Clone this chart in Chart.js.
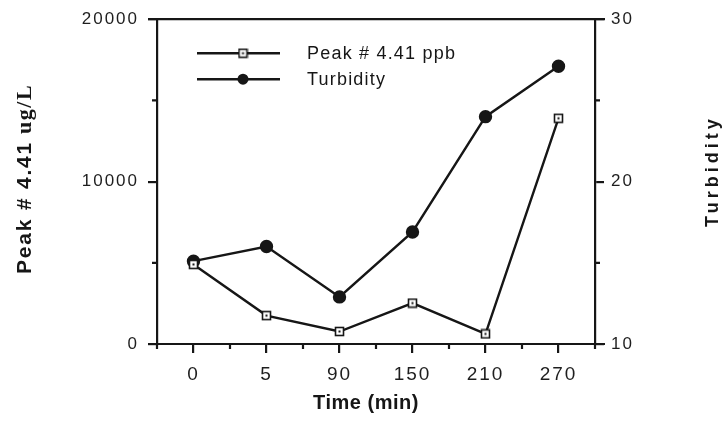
<!DOCTYPE html>
<html>
<head>
<meta charset="utf-8">
<script src="https://cdn.jsdelivr.net/npm/chart.js@4.4.1/dist/chart.umd.min.js"></script>
<style>
  html, body { margin: 0; padding: 0; background: #fff; }
  canvas { display: block; }
</style>
</head>
<body>
<canvas id="myChart" width="725" height="421"></canvas>
<script>
var timeLabels = ["0", "5", "90", "150", "210", "270"];
var peakValues = [4900, 1750, 770, 2520, 620, 13900];
var turbidityValues = [15.1, 16.0, 12.9, 16.9, 24.0, 27.1];
var peakTicks = [0, 10000, 20000];
var turbidityTicks = [10, 20, 30];

var ink = "#161616";
var sans = "'Liberation Sans', Arial, sans-serif";
var serif = "'Liberation Serif', 'Times New Roman', serif";

// open square with a small dot in the middle
function squareDot() {
  var c = document.createElement("canvas");
  c.width = 11;
  c.height = 11;
  var g = c.getContext("2d");
  g.fillStyle = "#fff";
  g.fillRect(1, 1, 9, 9);
  g.strokeStyle = ink;
  g.lineWidth = 1.6;
  g.strokeRect(1.5, 1.5, 8, 8);
  g.fillStyle = ink;
  g.fillRect(4.5, 4.5, 2, 2);
  return c;
}

function drawMarker(ctx, ds, x, y) {
  if (ds.pointStyle instanceof HTMLCanvasElement) {
    ctx.drawImage(ds.pointStyle, x - ds.pointStyle.width / 2, y - ds.pointStyle.height / 2);
  } else {
    ctx.beginPath();
    ctx.arc(x, y, ds.pointRadius, 0, Math.PI * 2);
    ctx.fillStyle = ink;
    ctx.fill();
  }
}

var framePlugin = {
  id: "frame",
  beforeDraw: function(chart) {
    chart.ctx.letterSpacing = "2px";
  },
  afterDraw: function(chart) {
    var ctx = chart.ctx;
    var a = chart.chartArea;
    var x = chart.scales.x, y = chart.scales.y, y1 = chart.scales.y1;
    ctx.save();
    ctx.letterSpacing = "0px";
    ctx.strokeStyle = ink;
    ctx.lineWidth = 2.2;
    ctx.beginPath();
    // top and bottom lines run a bit past the side axes
    ctx.moveTo(a.left - 9, a.top);
    ctx.lineTo(a.right + 10, a.top);
    ctx.moveTo(a.left - 9, a.bottom);
    ctx.lineTo(a.right + 10, a.bottom);
    // short ticks between categories
    var step = x.getPixelForValue(1) - x.getPixelForValue(0);
    for (var i = 0; i <= timeLabels.length; i++) {
      var px = x.getPixelForValue(0) - step / 2 + i * step;
      ctx.moveTo(px, a.bottom);
      ctx.lineTo(px, a.bottom + 5);
    }
    y.ticks.forEach(function(t) {
      if (peakTicks.indexOf(t.value) < 0) {
        var py = y.getPixelForValue(t.value);
        ctx.moveTo(a.left, py);
        ctx.lineTo(a.left - 5, py);
      }
    });
    y1.ticks.forEach(function(t) {
      if (turbidityTicks.indexOf(t.value) < 0) {
        var py = y1.getPixelForValue(t.value);
        ctx.moveTo(a.right, py);
        ctx.lineTo(a.right + 5, py);
      }
    });
    ctx.stroke();

    // legend: line with the marker in the middle
    chart.data.datasets.forEach(function(ds, i) {
      var ly = a.top + 34 + i * 26;
      ctx.beginPath();
      ctx.moveTo(a.left + 40, ly);
      ctx.lineTo(a.left + 123, ly);
      ctx.lineWidth = ds.borderWidth;
      ctx.strokeStyle = ink;
      ctx.stroke();
      drawMarker(ctx, ds, a.left + 86, ly);
      ctx.fillStyle = ink;
      ctx.font = "18px " + sans;
      ctx.letterSpacing = "1.2px";
      ctx.textAlign = "left";
      ctx.textBaseline = "middle";
      ctx.fillText(ds.label, a.left + 150, ly + 1);
    });

    // x title
    ctx.fillStyle = ink;
    ctx.font = "bold 20px " + sans;
    ctx.letterSpacing = "0.5px";
    ctx.textAlign = "center";
    ctx.textBaseline = "middle";
    ctx.fillText("Time (min)", 366, 403);

    // left title, mixed fonts
    ctx.save();
    ctx.translate(31, 274);
    ctx.rotate(-Math.PI / 2);
    ctx.textAlign = "left";
    ctx.textBaseline = "alphabetic";
    ctx.font = "bold 21px " + sans;
    ctx.letterSpacing = "1.8px";
    ctx.fillText("Peak # 4.41", 0, 0);
    var w = ctx.measureText("Peak # 4.41").width;
    ctx.font = "bold 22px " + serif;
    ctx.letterSpacing = "1.5px";
    ctx.fillText("ug/L", w + 7, 0);
    ctx.restore();

    // right title
    ctx.save();
    ctx.translate(718, 227);
    ctx.rotate(-Math.PI / 2);
    ctx.textAlign = "left";
    ctx.textBaseline = "alphabetic";
    ctx.font = "bold 18px " + sans;
    ctx.letterSpacing = "4px";
    ctx.fillText("Turbidity", 0, 0);
    ctx.restore();

    ctx.restore();
  }
};

new Chart("myChart", {
  type: "line",
  data: {
    labels: timeLabels,
    datasets: [{
      label: "Peak # 4.41 ppb",
      data: peakValues,
      yAxisID: "y",
      borderColor: ink,
      backgroundColor: "#fff",
      borderWidth: 2.4,
      pointStyle: squareDot(),
      pointRadius: 5,
      tension: 0
    }, {
      label: "Turbidity",
      data: turbidityValues,
      yAxisID: "y1",
      borderColor: ink,
      backgroundColor: ink,
      borderWidth: 2.4,
      pointStyle: "circle",
      pointRadius: 5.5,
      tension: 0
    }]
  },
  options: {
    responsive: false,
    animation: false,
    devicePixelRatio: 1,
    layout: {padding: {top: 13, left: 0, right: 0, bottom: 0}},
    plugins: {
      legend: {display: false},
      tooltip: {enabled: false}
    },
    scales: {
      x: {
        type: "category",
        offset: true,
        afterFit: function(s) { s.height = 77; },
        grid: {drawOnChartArea: false, offset: false, tickLength: 9, lineWidth: 2.2, color: ink},
        border: {display: false},
        ticks: {color: "#1e1e1e", font: {family: sans, size: 19}, padding: 10, maxRotation: 0}
      },
      y: {
        position: "left",
        min: 0,
        max: 20000,
        afterFit: function(s) { s.width = 157; },
        grid: {
          drawOnChartArea: false,
          tickLength: 9,
          lineWidth: 2.2,
          tickColor: function(c) { return c.tick && peakTicks.indexOf(c.tick.value) >= 0 ? ink : "rgba(0,0,0,0)"; }
        },
        border: {display: true, color: ink, width: 2.2},
        ticks: {
          stepSize: 5000,
          color: "#1e1e1e",
          font: {family: sans, size: 17},
          padding: 9,
          callback: function(v) { return peakTicks.indexOf(v) >= 0 ? v : ""; }
        }
      },
      y1: {
        position: "right",
        min: 10,
        max: 30,
        afterFit: function(s) { s.width = 130; },
        grid: {
          drawOnChartArea: false,
          tickLength: 9,
          lineWidth: 2.2,
          tickColor: function(c) { return c.tick && turbidityTicks.indexOf(c.tick.value) >= 0 ? ink : "rgba(0,0,0,0)"; }
        },
        border: {display: true, color: ink, width: 2.2},
        ticks: {
          stepSize: 5,
          color: "#1e1e1e",
          font: {family: sans, size: 17},
          padding: 7,
          callback: function(v) { return turbidityTicks.indexOf(v) >= 0 ? v : ""; }
        }
      }
    }
  },
  plugins: [framePlugin]
});
</script>
</body>
</html>
